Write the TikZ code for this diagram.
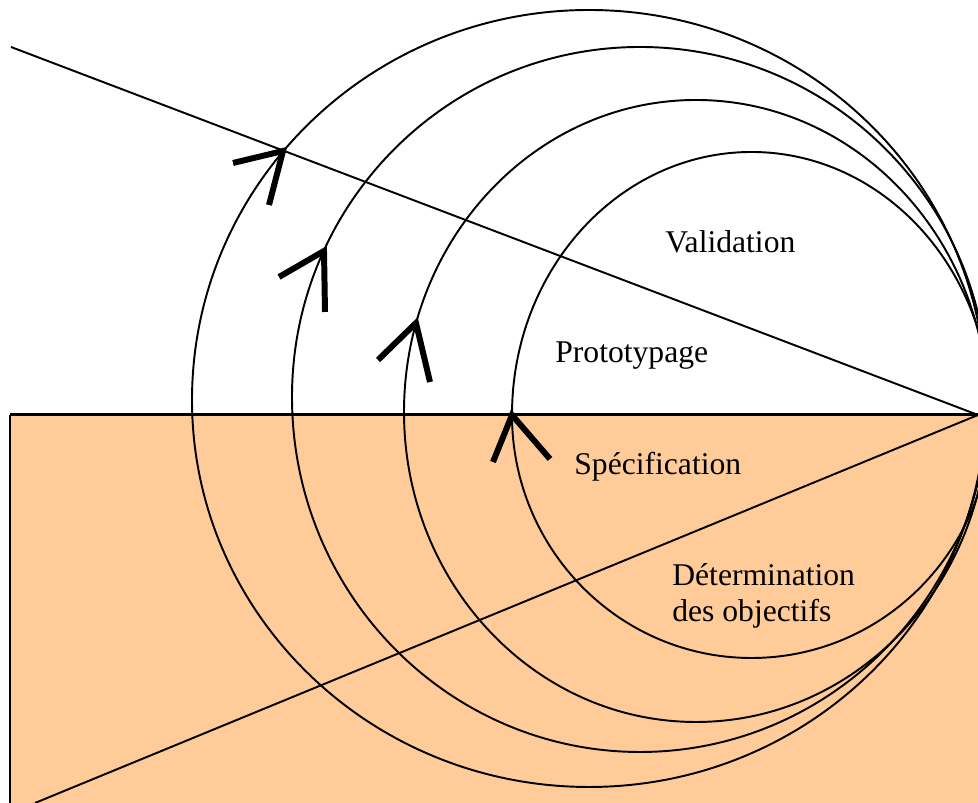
\documentclass[tikz,border=0pt]{standalone}
\usepackage{fontspec}
\setmainfont{Liberation Serif}
\usepackage{xcolor}
\definecolor{peach}{HTML}{FFCC99}

\begin{document}
\begin{tikzpicture}[x=0.02cm,y=0.02cm,
  curve/.style={line width=1.1pt},
  barb/.style={line width=3.4pt},
  phase/.style={inner sep=0pt,font=\fontsize{18}{21}\selectfont,anchor=base west}]
\useasboundingbox (0,0) rectangle (978,803);
\clip (0,0) rectangle (978,803);
\coordinate (apex) at (978,388);
% lower half, shaded
\fill[peach] (10,0) rectangle (990,388);
\draw[line width=1.1pt] (10,0) -- (10,388);
\draw[line width=1.7pt] (10,388) -- (apex);
\draw[curve] (11,756) -- (apex);
\draw[curve] (35,0) -- (apex);
% loops
\draw[curve] (192,403) arc[start angle=180,end angle=0,x radius=397,y radius=390];
\draw[curve] (192,403) arc[start angle=180,end angle=360,x radius=397,y radius=387];
\draw[curve] (292,406) arc[start angle=180,end angle=0,x radius=348,y radius=350];
\draw[curve] (292,406) arc[start angle=180,end angle=360,x radius=348,y radius=355];
\draw[curve] (404,391) arc[start angle=180,end angle=0,x radius=292,y radius=312];
\draw[curve] (404,391) arc[start angle=180,end angle=360,x radius=292,y radius=310];
\draw[curve] (512,388) arc[start angle=180,end angle=0,x radius=239.5,y radius=263];
\draw[curve] (512,388) arc[start angle=180,end angle=360,x radius=239.5,y radius=243];
% arrow heads
\draw[barb] (233,640) -- (283,652) -- (269,598);
\draw[barb] (279,526) -- (324,552) -- (325,491);
\draw[barb] (378,443) -- (416,480) -- (430,421);
\draw[barb] (493,341) -- (512,388) -- (550,344);
% phases
\node[phase] (valid) at (665,550) {Validation};
\node[phase] (proto) at (555,440) {Prototypage};
\node[phase] (spec) at (574,328) {Sp\'ecification};
\node[phase,align=left] (determ) at (672,181) {D\'etermination\\des objectifs};
\end{tikzpicture}
\end{document}
